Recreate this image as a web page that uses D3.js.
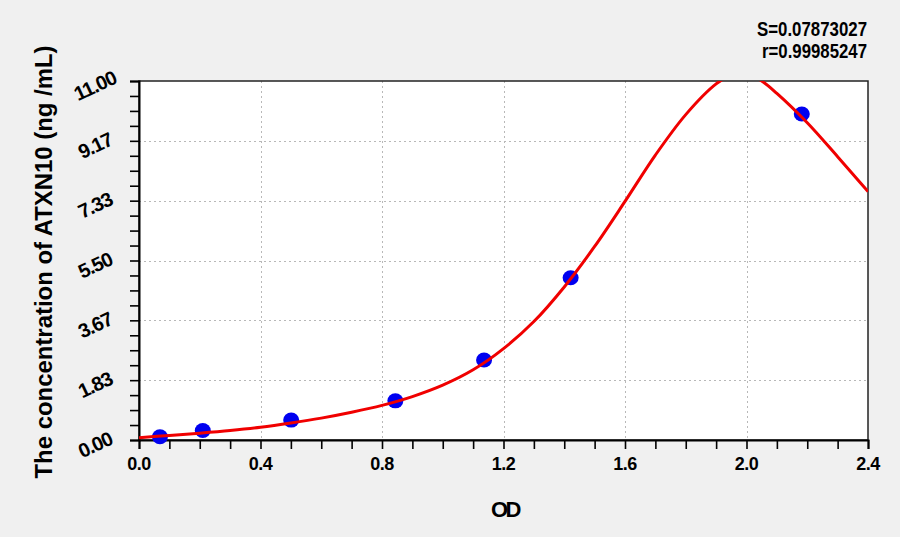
<!DOCTYPE html>
<html>
<head>
<meta charset="utf-8">
<script src="https://cdn.jsdelivr.net/npm/d3@7"></script>
<style>
  html, body { margin: 0; padding: 0; background: #f0f0f0; }
  svg { display: block; }
  text { font-family: "Liberation Sans", Arial, sans-serif; font-weight: bold; fill: #000; }
</style>
</head>
<body>
<svg id="chart" width="900" height="537"></svg>
<script>
// ---- data ----
const xTickValues = [0.0, 0.4, 0.8, 1.2, 1.6, 2.0, 2.4];
const xTickLabels = ["0.0", "0.4", "0.8", "1.2", "1.6", "2.0", "2.4"];
const yTickValues = [0, 11/6, 22/6, 33/6, 44/6, 55/6, 11];
const yTickLabels = ["0.00", "1.83", "3.67", "5.50", "7.33", "9.17", "11.00"];
const pointOD   = [0.069, 0.210, 0.501, 0.844, 1.136, 1.421, 2.182];
const pointConc = [0.10, 0.29, 0.61, 1.20, 2.45, 4.97, 9.99];
const curveOD   = [0.0, 0.1, 0.2, 0.3, 0.4, 0.5, 0.6, 0.7, 0.8, 0.9, 1.0, 1.1, 1.2, 1.3, 1.4, 1.5, 1.6, 1.7, 1.8, 1.9, 1.95, 2.0, 2.05, 2.1, 2.2, 2.3, 2.4];
const curveConc = [0.07, 0.14, 0.21, 0.29, 0.39, 0.52, 0.67, 0.85, 1.06, 1.33, 1.68, 2.15, 2.80, 3.63, 4.69, 5.93, 7.31, 8.73, 9.97, 10.91, 11.18, 11.22, 11.00, 10.62, 9.72, 8.68, 7.61];
const statLines = ["S=0.07873027", "r=0.99985247"];
const statWidths = [110, 105];
const xTitle = "OD";
const yTitle = "The concentration of ATXN10 (ng /mL)";

// ---- layout ----
const svg = d3.select("#chart");
const L = 139, T = 81, W = 729, H = 359;
const x = d3.scaleLinear().domain([0, 2.4]).range([L, L + W]);
const y = d3.scaleLinear().domain([0, 11]).range([T + H, T]);

// plot background
svg.append("rect").attr("x", L).attr("y", T).attr("width", W).attr("height", H).attr("fill", "#fff");

// grid
const grid = svg.append("g").attr("stroke", "#b8b8b8").attr("stroke-width", 1).attr("stroke-dasharray", "2,3");
grid.selectAll(".gx").data(xTickValues.slice(1, -1)).enter().append("line")
  .attr("x1", d => Math.round(x(d)) + 0.5).attr("x2", d => Math.round(x(d)) + 0.5)
  .attr("y1", T).attr("y2", T + H);
grid.selectAll(".gy").data(yTickValues.slice(1, -1)).enter().append("line")
  .attr("y1", d => Math.round(y(d)) + 0.5).attr("y2", d => Math.round(y(d)) + 0.5)
  .attr("x1", L).attr("x2", L + W);

// frame
svg.append("rect").attr("x", L).attr("y", T).attr("width", W).attr("height", H)
  .attr("fill", "none").attr("stroke", "#222").attr("stroke-width", 1.5);

// axes
const xMinor = d3.range(0, 25).map(i => i * 0.1);
const yMinor = d3.range(0, 25).map(i => i * 11 / 24);
const xAxis = svg.append("g").attr("transform", `translate(0,${T + H})`)
  .call(d3.axisBottom(x).tickValues(xMinor).tickSize(9).tickFormat(""));
xAxis.select(".domain").attr("stroke", "#000").attr("stroke-width", 2);
xAxis.selectAll(".tick line").attr("stroke", "#000").attr("stroke-width", 1.6);
const yAxis = svg.append("g").attr("transform", `translate(${L},0)`)
  .call(d3.axisLeft(y).tickValues(yMinor).tickSize(9).tickFormat(""));
yAxis.select(".domain").attr("stroke", "#000").attr("stroke-width", 2);
yAxis.selectAll(".tick line").attr("stroke", "#000").attr("stroke-width", 1.6);

// tick labels
svg.selectAll(".xl").data(xTickValues).enter().append("text")
  .attr("x", d => x(d)).attr("y", T + H + 30)
  .attr("text-anchor", "middle").attr("font-size", 18).attr("letter-spacing", -0.5)
  .text((d, i) => xTickLabels[i]);
svg.selectAll(".yl").data(yTickValues).enter().append("text")
  .attr("transform", d => `translate(98,${y(d) + 11}) rotate(-25)`)
  .attr("text-anchor", "middle").attr("font-size", 20).attr("letter-spacing", -1)
  .text((d, i) => yTickLabels[i]);

// titles
svg.append("text").attr("x", 505).attr("y", 517).attr("text-anchor", "middle")
  .attr("font-size", 22).attr("letter-spacing", -2.5).text(xTitle);
svg.append("text").attr("transform", "translate(52,262) rotate(-90)")
  .attr("text-anchor", "middle").attr("font-size", 23)
  .attr("textLength", 433).attr("lengthAdjust", "spacingAndGlyphs").text(yTitle);
svg.selectAll(".st").data(statLines).enter().append("text")
  .attr("x", (d, i) => 867 - statWidths[i]).attr("y", (d, i) => 36 + i * 21.5)
  .attr("font-size", 20)
  .attr("textLength", (d, i) => statWidths[i]).attr("lengthAdjust", "spacingAndGlyphs")
  .text(d => d);

// curve (clipped)
svg.append("clipPath").attr("id", "clip").append("rect")
  .attr("x", L).attr("y", T).attr("width", W).attr("height", H);
const line = d3.line().x(d => x(d[0])).y(d => y(d[1])).curve(d3.curveCatmullRom.alpha(0.5));
const curveData = curveOD.map((v, i) => [v, curveConc[i]]);

// points
svg.append("g").selectAll("ellipse").data(pointOD.map((v, i) => [v, pointConc[i]])).enter().append("ellipse")
  .attr("cx", d => x(d[0])).attr("cy", d => y(d[1])).attr("rx", 8).attr("ry", 7.5)
  .attr("fill", "#0000f0");

svg.append("path").datum(curveData).attr("clip-path", "url(#clip)")
  .attr("d", line).attr("fill", "none").attr("stroke", "#f00000").attr("stroke-width", 3);
</script>
</body>
</html>
